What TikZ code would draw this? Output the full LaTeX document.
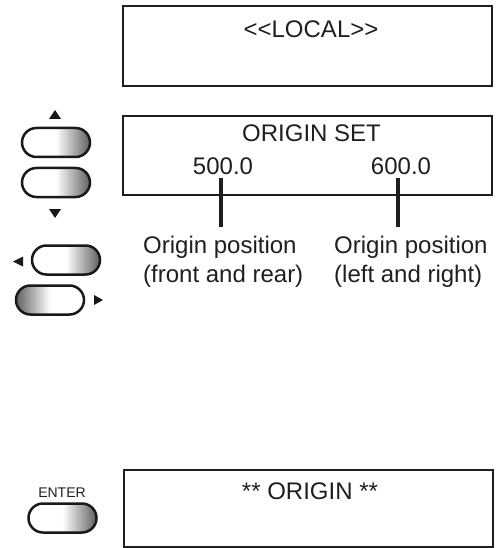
\documentclass[tikz,border=0pt]{standalone}
\usepackage{fontspec}
\setmainfont{Liberation Sans}
\usetikzlibrary{shapes.misc}
\pgfdeclarehorizontalshading{btnsh}{100bp}{color(0bp)=(white); color(25bp)=(white); color(50bp)=(white); color(72bp)=(black!55); color(75bp)=(black!60); color(100bp)=(black!60)}
\pgfdeclarehorizontalshading{btnshrev}{100bp}{color(0bp)=(black!60); color(25bp)=(black!60); color(28bp)=(black!55); color(50bp)=(white); color(75bp)=(white); color(100bp)=(white)}
\tikzset{
  lcd/.style={draw=black!88, line width=2pt, minimum width=369pt, inner sep=0pt},
  big/.style={inner sep=0pt, font=\fontsize{24}{28}\selectfont, text=black!88},
  small/.style={inner sep=0pt, font=\fontsize{14}{17}\selectfont, text=black!88},
  lead/.style={line width=3.2pt, draw=black!88},
  btn/.style={rounded rectangle, draw=black!90, line width=2.5pt, minimum width=68pt, minimum height=29pt, inner sep=0pt, shading=btnsh},
  btnrev/.style={btn, shading=btnshrev},
  tri/.style={fill=black!90}
}
\begin{document}
\begin{tikzpicture}[x=1pt,y=-1pt]
\useasboundingbox (0,0) rectangle (497,548);
% LCD boxes
\node[lcd, minimum height=80pt] (d1) at (307.5,46) {};
\node[lcd, minimum height=79pt] (d2) at (307.5,155.5) {};
\node[lcd, minimum height=77pt] (d3) at (308.5,508.5) {};
% texts
\node[big, anchor=base] (tlocal) at (311,38) {<{}<LOCAL>{}>};
\node[big, anchor=base] (tset) at (311.5,142) {ORIGIN SET};
\node[big, anchor=base] (n500) at (223,175) {500.0};
\node[big, anchor=base] (n600) at (401,175) {600.0};
\node[big, anchor=base west] (l1a) at (143,253) {Origin position};
\node[big, anchor=base west] (l1b) at (143,282) {(front and rear)};
\node[big, anchor=base west] (l2a) at (334,253) {Origin position};
\node[big, anchor=base west] (l2b) at (334,282) {(left and right)};
\node[big, anchor=base] (torigin) at (310,499) {** ORIGIN **};
\node[small, anchor=base] (tenter) at (62,497) {ENTER};
% leaders
\draw[lead] ([xshift=-2pt,yshift=-3pt]n500.south) -- ++(0,49);
\draw[lead] ([xshift=-3pt,yshift=-3pt]n600.south) -- ++(0,49);
% buttons
\node[btn] (bup) at (56,142.5) {};
\node[btn] (bdown) at (56,182.5) {};
\node[btn] (bleft) at (66,260) {};
\node[btnrev] (bright) at (50,300) {};
\node[btn] (benter) at (62.5,518) {};
% arrows
\fill[tri] (49,119) -- (61,119) -- (55,110) -- cycle;
\fill[tri] (49,209) -- (61,209) -- (55,218) -- cycle;
\fill[tri] (23,256.5) -- (23,266.5) -- (13,261.5) -- cycle;
\fill[tri] (94,295) -- (94,305) -- (103,300) -- cycle;
\end{tikzpicture}
\end{document}
